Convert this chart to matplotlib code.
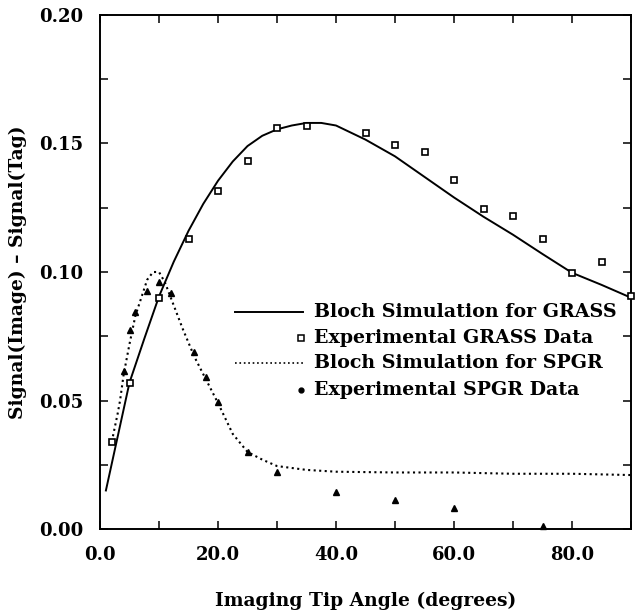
import numpy as np
import matplotlib
matplotlib.use('Agg')
import matplotlib.pyplot as plt
from matplotlib.ticker import MultipleLocator, FormatStrFormatter

plt.rcParams['font.family'] = 'DejaVu Serif'
plt.rcParams['font.weight'] = 'bold'

# Bloch simulation, GRASS (solid)
grass_sim_x = [1, 3, 5, 7.5, 10, 12.5, 15, 17.5, 20, 22.5, 25, 27.5, 30, 32.5,
               35, 37.5, 40, 45, 50, 55, 60, 65, 70, 75, 80, 85, 90]
grass_sim_y = [0.015, 0.036, 0.057, 0.074, 0.0905, 0.104, 0.116, 0.1265, 0.1355,
               0.143, 0.149, 0.153, 0.1555, 0.157, 0.158, 0.158, 0.157, 0.1515, 0.145,
               0.137, 0.129, 0.1215, 0.1145, 0.107, 0.0997, 0.095, 0.090]

# experimental GRASS (open squares)
grass_exp_x = [2, 5, 10, 15, 20, 25, 30, 35, 45, 50, 55, 60, 65, 70, 75, 80, 85, 90]
grass_exp_y = [0.034, 0.057, 0.090, 0.113, 0.1315, 0.143, 0.156, 0.157, 0.154, 0.1494,
               0.1466, 0.1357, 0.1244, 0.1218, 0.113, 0.0997, 0.104, 0.0908]

# Bloch simulation, SPGR (dotted)
spgr_sim_x = [2, 3, 3.4, 4, 5, 6, 7, 8, 9, 10, 11, 12, 13, 14, 16, 18, 20, 22.5, 25,
              27.5, 30, 35, 40, 50, 60, 70, 80, 90]
spgr_sim_y = [0.034, 0.045, 0.050, 0.060, 0.072, 0.083, 0.090, 0.097, 0.100, 0.100,
              0.096, 0.090, 0.084, 0.078, 0.067, 0.058, 0.049, 0.037, 0.030, 0.027,
              0.0245, 0.023, 0.0223, 0.022, 0.022, 0.0215, 0.0215, 0.021]

# experimental SPGR (filled triangles)
spgr_exp_x = [4, 5, 6, 8, 10, 12, 16, 18, 20, 25, 30, 40, 50, 60, 75]
spgr_exp_y = [0.0616, 0.0774, 0.0843, 0.0926, 0.096, 0.0917, 0.0688, 0.0593, 0.0495,
              0.0298, 0.022, 0.0145, 0.0113, 0.008, 0.001]

labels = ['Bloch Simulation for GRASS', 'Experimental GRASS Data',
          'Bloch Simulation for SPGR', 'Experimental SPGR Data']

fig = plt.figure(figsize=(6.39, 6.14), dpi=100)
ax = fig.add_axes([0.1565, 0.1384, 0.8310, 0.8372])

ax.plot(grass_sim_x, grass_sim_y, '-', color='black', lw=1.4)
ax.plot(spgr_sim_x, spgr_sim_y, ':', color='black', lw=1.5)
ax.plot(grass_exp_x, grass_exp_y, 's', mfc='white', mec='black', ms=5, mew=1.2,
        clip_on=False, zorder=5)
ax.plot(spgr_exp_x, spgr_exp_y, '^', color='black', ms=5, clip_on=False, zorder=5)

ax.set_xlim(0, 90)
ax.set_ylim(0, 0.20)
ax.xaxis.set_major_locator(MultipleLocator(20))
ax.xaxis.set_minor_locator(MultipleLocator(10))
ax.yaxis.set_major_locator(MultipleLocator(0.05))
ax.yaxis.set_minor_locator(MultipleLocator(0.025))
ax.xaxis.set_major_formatter(FormatStrFormatter('%.1f'))
ax.yaxis.set_major_formatter(FormatStrFormatter('%.2f'))
ax.tick_params(which='both', direction='in', top=True, right=True,
               length=6, width=1.1, labelsize=13, pad=12)
for s in ax.spines.values():
    s.set_linewidth(1.4)

ax.set_xlabel('Imaging Tip Angle (degrees)', fontsize=13.5, fontweight='bold', labelpad=20)
ax.set_ylabel('Signal(Image) \u2013 Signal(Tag)', fontsize=13.5, fontweight='bold', labelpad=9)

# legend drawn by hand: handle on the left, marker at the handle's right end
rows_y = [0.423, 0.372, 0.323, 0.270]
tr = ax.transAxes
ax.plot([0.254, 0.382], [rows_y[0]] * 2, '-', color='black', lw=1.4, transform=tr)
ax.plot([0.379], [rows_y[1]], 's', mfc='white', mec='black', ms=4, mew=1.1, transform=tr)
ax.plot([0.254, 0.382], [rows_y[2]] * 2, ':', color='black', lw=1.2, transform=tr)
ax.plot([0.379], [rows_y[3]], 'o', color='black', ms=3.5, transform=tr)
for yy, lab in zip(rows_y, labels):
    ax.text(0.403, yy, lab, transform=tr, fontsize=13.7, fontweight='bold',
            va='center', ha='left')

fig.savefig('out.png', dpi=100)
